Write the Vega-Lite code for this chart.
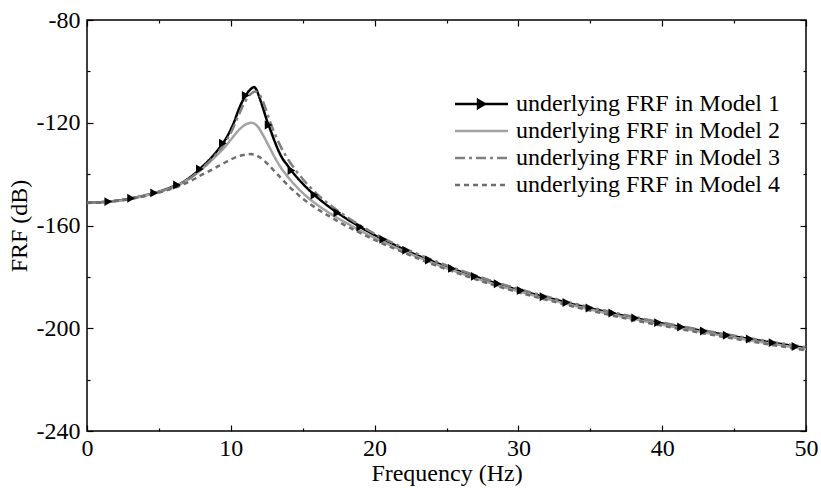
{
  "$schema": "https://vega.github.io/schema/vega-lite/v6.json",
  "width": 719,
  "height": 411,
  "autosize": "none",
  "padding": {"left": 87, "top": 20, "right": 15, "bottom": 57},
  "background": "white",
  "config": {
    "view": {"stroke": "black", "strokeWidth": 1.5},
    "font": "Liberation Serif",
    "axis": {
      "labelFont": "Liberation Serif",
      "titleFont": "Liberation Serif",
      "labelFontSize": 24,
      "titleFontSize": 24,
      "labelColor": "black",
      "titleColor": "black",
      "titleFontWeight": "normal",
      "grid": false,
      "domain": false,
      "tickColor": "black",
      "tickWidth": 1.2,
      "labelFlush": false,
      "labelOverlap": false
    }
  },
  "datasets": {
    "curves": [
      {"series": "Model 1", "f": 0, "v": -151.1},
      {"series": "Model 1", "f": 1, "v": -150.9},
      {"series": "Model 1", "f": 2, "v": -150.4},
      {"series": "Model 1", "f": 3, "v": -149.5},
      {"series": "Model 1", "f": 4, "v": -148.3},
      {"series": "Model 1", "f": 5, "v": -146.8},
      {"series": "Model 1", "f": 6, "v": -144.8},
      {"series": "Model 1", "f": 6.5, "v": -143.7},
      {"series": "Model 1", "f": 7, "v": -141.9},
      {"series": "Model 1", "f": 7.5, "v": -139.8},
      {"series": "Model 1", "f": 8, "v": -137.2},
      {"series": "Model 1", "f": 8.5, "v": -134.5},
      {"series": "Model 1", "f": 9, "v": -131.3},
      {"series": "Model 1", "f": 9.5, "v": -127.6},
      {"series": "Model 1", "f": 9.75, "v": -125.3},
      {"series": "Model 1", "f": 10, "v": -122.6},
      {"series": "Model 1", "f": 10.25, "v": -119.4},
      {"series": "Model 1", "f": 10.5, "v": -115.6},
      {"series": "Model 1", "f": 10.75, "v": -112.3},
      {"series": "Model 1", "f": 11, "v": -109.7},
      {"series": "Model 1", "f": 11.25, "v": -107.7},
      {"series": "Model 1", "f": 11.5, "v": -106.4},
      {"series": "Model 1", "f": 11.62, "v": -106.1},
      {"series": "Model 1", "f": 11.75, "v": -106.8},
      {"series": "Model 1", "f": 12, "v": -110.3},
      {"series": "Model 1", "f": 12.25, "v": -114.5},
      {"series": "Model 1", "f": 12.5, "v": -118.9},
      {"series": "Model 1", "f": 12.75, "v": -122.7},
      {"series": "Model 1", "f": 13, "v": -126.5},
      {"series": "Model 1", "f": 13.25, "v": -130.0},
      {"series": "Model 1", "f": 13.5, "v": -133.0},
      {"series": "Model 1", "f": 14, "v": -137.0},
      {"series": "Model 1", "f": 14.5, "v": -140.6},
      {"series": "Model 1", "f": 15, "v": -143.7},
      {"series": "Model 1", "f": 15.5, "v": -146.5},
      {"series": "Model 1", "f": 16, "v": -149.0},
      {"series": "Model 1", "f": 17, "v": -153.4},
      {"series": "Model 1", "f": 18, "v": -157.2},
      {"series": "Model 1", "f": 19, "v": -160.6},
      {"series": "Model 1", "f": 20, "v": -163.7},
      {"series": "Model 1", "f": 21, "v": -166.5},
      {"series": "Model 1", "f": 22, "v": -169.2},
      {"series": "Model 1", "f": 24, "v": -173.9},
      {"series": "Model 1", "f": 26, "v": -178.0},
      {"series": "Model 1", "f": 28, "v": -181.7},
      {"series": "Model 1", "f": 30, "v": -185.1},
      {"series": "Model 1", "f": 32, "v": -188.1},
      {"series": "Model 1", "f": 34, "v": -190.9},
      {"series": "Model 1", "f": 36, "v": -193.5},
      {"series": "Model 1", "f": 38, "v": -195.9},
      {"series": "Model 1", "f": 40, "v": -198.1},
      {"series": "Model 1", "f": 42, "v": -200.2},
      {"series": "Model 1", "f": 44, "v": -202.2},
      {"series": "Model 1", "f": 46, "v": -204.1},
      {"series": "Model 1", "f": 48, "v": -205.9},
      {"series": "Model 1", "f": 50, "v": -207.7},

      {"series": "Model 2", "f": 0, "v": -151.2},
      {"series": "Model 2", "f": 1, "v": -151.0},
      {"series": "Model 2", "f": 2, "v": -150.5},
      {"series": "Model 2", "f": 3, "v": -149.6},
      {"series": "Model 2", "f": 4, "v": -148.4},
      {"series": "Model 2", "f": 5, "v": -146.9},
      {"series": "Model 2", "f": 6, "v": -145.0},
      {"series": "Model 2", "f": 7, "v": -142.2},
      {"series": "Model 2", "f": 7.5, "v": -140.3},
      {"series": "Model 2", "f": 8, "v": -138.0},
      {"series": "Model 2", "f": 8.5, "v": -135.5},
      {"series": "Model 2", "f": 9, "v": -132.8},
      {"series": "Model 2", "f": 9.5, "v": -130.0},
      {"series": "Model 2", "f": 10, "v": -126.6},
      {"series": "Model 2", "f": 10.5, "v": -123.2},
      {"series": "Model 2", "f": 10.75, "v": -121.8},
      {"series": "Model 2", "f": 11, "v": -120.8},
      {"series": "Model 2", "f": 11.25, "v": -120.2},
      {"series": "Model 2", "f": 11.45, "v": -120.0},
      {"series": "Model 2", "f": 11.65, "v": -120.4},
      {"series": "Model 2", "f": 11.9, "v": -121.7},
      {"series": "Model 2", "f": 12.15, "v": -123.9},
      {"series": "Model 2", "f": 12.5, "v": -127.5},
      {"series": "Model 2", "f": 12.75, "v": -130.2},
      {"series": "Model 2", "f": 13, "v": -132.9},
      {"series": "Model 2", "f": 13.5, "v": -137.6},
      {"series": "Model 2", "f": 14, "v": -141.3},
      {"series": "Model 2", "f": 14.5, "v": -144.5},
      {"series": "Model 2", "f": 15, "v": -147.3},
      {"series": "Model 2", "f": 15.5, "v": -149.8},
      {"series": "Model 2", "f": 16, "v": -151.9},
      {"series": "Model 2", "f": 17, "v": -155.6},
      {"series": "Model 2", "f": 18, "v": -158.9},
      {"series": "Model 2", "f": 19, "v": -162.0},
      {"series": "Model 2", "f": 20, "v": -164.8},
      {"series": "Model 2", "f": 22, "v": -169.9},
      {"series": "Model 2", "f": 24, "v": -174.5},
      {"series": "Model 2", "f": 26, "v": -178.6},
      {"series": "Model 2", "f": 28, "v": -182.3},
      {"series": "Model 2", "f": 30, "v": -185.6},
      {"series": "Model 2", "f": 32, "v": -188.6},
      {"series": "Model 2", "f": 34, "v": -191.4},
      {"series": "Model 2", "f": 36, "v": -194.0},
      {"series": "Model 2", "f": 38, "v": -196.4},
      {"series": "Model 2", "f": 40, "v": -198.6},
      {"series": "Model 2", "f": 42, "v": -200.7},
      {"series": "Model 2", "f": 44, "v": -202.7},
      {"series": "Model 2", "f": 46, "v": -204.6},
      {"series": "Model 2", "f": 48, "v": -206.4},
      {"series": "Model 2", "f": 50, "v": -208.2},

      {"series": "Model 3", "f": 0, "v": -151.1},
      {"series": "Model 3", "f": 1, "v": -150.9},
      {"series": "Model 3", "f": 2, "v": -150.4},
      {"series": "Model 3", "f": 3, "v": -149.5},
      {"series": "Model 3", "f": 4, "v": -148.4},
      {"series": "Model 3", "f": 5, "v": -146.9},
      {"series": "Model 3", "f": 6, "v": -145.0},
      {"series": "Model 3", "f": 7, "v": -142.2},
      {"series": "Model 3", "f": 7.5, "v": -140.2},
      {"series": "Model 3", "f": 8, "v": -137.7},
      {"series": "Model 3", "f": 8.5, "v": -135.1},
      {"series": "Model 3", "f": 9, "v": -132.1},
      {"series": "Model 3", "f": 9.5, "v": -128.6},
      {"series": "Model 3", "f": 10, "v": -124.0},
      {"series": "Model 3", "f": 10.5, "v": -117.7},
      {"series": "Model 3", "f": 10.75, "v": -114.5},
      {"series": "Model 3", "f": 11, "v": -111.7},
      {"series": "Model 3", "f": 11.25, "v": -109.6},
      {"series": "Model 3", "f": 11.5, "v": -108.3},
      {"series": "Model 3", "f": 11.72, "v": -107.8},
      {"series": "Model 3", "f": 11.9, "v": -108.3},
      {"series": "Model 3", "f": 12.1, "v": -110.0},
      {"series": "Model 3", "f": 12.3, "v": -112.6},
      {"series": "Model 3", "f": 12.5, "v": -115.8},
      {"series": "Model 3", "f": 12.75, "v": -119.9},
      {"series": "Model 3", "f": 13, "v": -123.5},
      {"series": "Model 3", "f": 13.25, "v": -126.7},
      {"series": "Model 3", "f": 13.5, "v": -129.6},
      {"series": "Model 3", "f": 14, "v": -134.4},
      {"series": "Model 3", "f": 14.5, "v": -138.4},
      {"series": "Model 3", "f": 15, "v": -141.9},
      {"series": "Model 3", "f": 15.5, "v": -145.0},
      {"series": "Model 3", "f": 16, "v": -147.8},
      {"series": "Model 3", "f": 17, "v": -152.4},
      {"series": "Model 3", "f": 18, "v": -156.4},
      {"series": "Model 3", "f": 19, "v": -160.0},
      {"series": "Model 3", "f": 20, "v": -163.2},
      {"series": "Model 3", "f": 22, "v": -168.7},
      {"series": "Model 3", "f": 24, "v": -173.4},
      {"series": "Model 3", "f": 26, "v": -177.5},
      {"series": "Model 3", "f": 28, "v": -181.3},
      {"series": "Model 3", "f": 30, "v": -184.7},
      {"series": "Model 3", "f": 32, "v": -187.7},
      {"series": "Model 3", "f": 34, "v": -190.5},
      {"series": "Model 3", "f": 36, "v": -193.1},
      {"series": "Model 3", "f": 38, "v": -195.5},
      {"series": "Model 3", "f": 40, "v": -197.8},
      {"series": "Model 3", "f": 42, "v": -199.9},
      {"series": "Model 3", "f": 44, "v": -201.9},
      {"series": "Model 3", "f": 46, "v": -203.8},
      {"series": "Model 3", "f": 48, "v": -205.6},
      {"series": "Model 3", "f": 50, "v": -207.4},

      {"series": "Model 4", "f": 0, "v": -151.2},
      {"series": "Model 4", "f": 1, "v": -151.0},
      {"series": "Model 4", "f": 2, "v": -150.5},
      {"series": "Model 4", "f": 3, "v": -149.7},
      {"series": "Model 4", "f": 4, "v": -148.6},
      {"series": "Model 4", "f": 5, "v": -147.2},
      {"series": "Model 4", "f": 6, "v": -145.5},
      {"series": "Model 4", "f": 7, "v": -143.2},
      {"series": "Model 4", "f": 7.5, "v": -141.8},
      {"series": "Model 4", "f": 8, "v": -140.2},
      {"series": "Model 4", "f": 8.5, "v": -138.8},
      {"series": "Model 4", "f": 9, "v": -137.3},
      {"series": "Model 4", "f": 9.5, "v": -135.8},
      {"series": "Model 4", "f": 10, "v": -134.3},
      {"series": "Model 4", "f": 10.5, "v": -133.1},
      {"series": "Model 4", "f": 11, "v": -132.4},
      {"series": "Model 4", "f": 11.35, "v": -132.2},
      {"series": "Model 4", "f": 11.7, "v": -132.5},
      {"series": "Model 4", "f": 12, "v": -133.4},
      {"series": "Model 4", "f": 12.5, "v": -135.7},
      {"series": "Model 4", "f": 13, "v": -138.6},
      {"series": "Model 4", "f": 13.5, "v": -141.6},
      {"series": "Model 4", "f": 14, "v": -144.5},
      {"series": "Model 4", "f": 14.5, "v": -147.1},
      {"series": "Model 4", "f": 15, "v": -149.5},
      {"series": "Model 4", "f": 15.5, "v": -151.6},
      {"series": "Model 4", "f": 16, "v": -153.5},
      {"series": "Model 4", "f": 17, "v": -156.9},
      {"series": "Model 4", "f": 18, "v": -160.1},
      {"series": "Model 4", "f": 19, "v": -162.9},
      {"series": "Model 4", "f": 20, "v": -165.6},
      {"series": "Model 4", "f": 22, "v": -170.5},
      {"series": "Model 4", "f": 24, "v": -175.0},
      {"series": "Model 4", "f": 26, "v": -179.0},
      {"series": "Model 4", "f": 28, "v": -182.7},
      {"series": "Model 4", "f": 30, "v": -186.0},
      {"series": "Model 4", "f": 32, "v": -189.0},
      {"series": "Model 4", "f": 34, "v": -191.8},
      {"series": "Model 4", "f": 36, "v": -194.4},
      {"series": "Model 4", "f": 38, "v": -196.8},
      {"series": "Model 4", "f": 40, "v": -199.0},
      {"series": "Model 4", "f": 42, "v": -201.1},
      {"series": "Model 4", "f": 44, "v": -203.1},
      {"series": "Model 4", "f": 46, "v": -205.0},
      {"series": "Model 4", "f": 48, "v": -206.8},
      {"series": "Model 4", "f": 50, "v": -208.6}
    ],
    "markers": [
      {"f": 1.48, "v": -150.7},
      {"f": 3.07, "v": -149.4},
      {"f": 4.67, "v": -147.3},
      {"f": 6.26, "v": -144.2},
      {"f": 7.85, "v": -138.0},
      {"f": 9.45, "v": -128.0},
      {"f": 11.04, "v": -109.4},
      {"f": 12.63, "v": -120.9},
      {"f": 14.22, "v": -138.6},
      {"f": 15.82, "v": -148.1},
      {"f": 17.41, "v": -155.0},
      {"f": 19.0, "v": -160.6},
      {"f": 20.6, "v": -165.4},
      {"f": 22.19, "v": -169.6},
      {"f": 23.78, "v": -173.4},
      {"f": 25.38, "v": -176.7},
      {"f": 26.97, "v": -179.8},
      {"f": 28.56, "v": -182.7},
      {"f": 30.16, "v": -185.3},
      {"f": 31.75, "v": -187.7},
      {"f": 33.34, "v": -190.0},
      {"f": 34.94, "v": -192.1},
      {"f": 36.53, "v": -194.1},
      {"f": 38.12, "v": -196.0},
      {"f": 39.71, "v": -197.8},
      {"f": 41.31, "v": -199.5},
      {"f": 42.9, "v": -201.1},
      {"f": 44.49, "v": -202.7},
      {"f": 46.09, "v": -204.2},
      {"f": 47.68, "v": -205.6},
      {"f": 49.27, "v": -207.1}
    ]
  },
  "layer": [
    {
      "data": {"name": "curves"},
      "mark": {"type": "line", "strokeWidth": 2.5, "interpolate": "monotone", "clip": true},
      "encoding": {
        "x": {
          "field": "f", "type": "quantitative",
          "scale": {"domain": [0, 50], "nice": false, "zero": false},
          "axis": {
            "orient": "bottom",
            "values": [0, 5, 10, 15, 20, 25, 30, 35, 40, 45, 50],
            "labelExpr": "datum.value % 10 === 0 ? toString(datum.value) : ''",
            "tickSize": {"condition": {"test": "datum.value % 10 === 0", "value": -6}, "value": -3},
            "labelPadding": 11,
            "title": "Frequency (Hz)",
            "titlePadding": -2
          }
        },
        "y": {
          "field": "v", "type": "quantitative",
          "scale": {"domain": [-240, -80], "nice": false, "zero": false},
          "axis": {
            "orient": "left",
            "values": [-240, -220, -200, -180, -160, -140, -120, -100, -80],
            "labelExpr": "datum.value % 40 === 0 ? toString(datum.value) : ''",
            "tickSize": {"condition": {"test": "datum.value % 40 === 0", "value": -6}, "value": -3},
            "labelPadding": 13,
            "title": "FRF (dB)",
            "titlePadding": 5
          }
        },
        "color": {
          "field": "series", "type": "nominal",
          "scale": {"domain": ["Model 1", "Model 2", "Model 3", "Model 4"], "range": ["#000000", "#a3a3a3", "#808080", "#6e6e6e"]},
          "legend": {
            "orient": "none",
            "legendX": 366.5,
            "legendY": 71.5,
            "title": null,
            "labelExpr": "'underlying FRF in ' + datum.label",
            "labelFont": "Liberation Serif",
            "labelFontSize": 24,
            "labelColor": "black",
            "labelLimit": 400,
            "symbolSize": 2809,
            "symbolStrokeWidth": 2.5,
            "symbolOffset": 0,
            "labelOffset": 6.5,
            "clipHeight": 25,
            "rowPadding": 2,
            "padding": 0,
            "encode": {
              "symbols": {
                "update": {
                  "shape": {"signal": "datum.value === 'Model 1' ? 'M-1,0L1,0M-0.13,-0.15L0.13,0L-0.13,0.15Z' : 'M-1,0L1,0'"},
                  "fill": {"value": "black"},
                  "strokeDash": {"signal": "datum.value === 'Model 3' ? [10,4,3,4] : (datum.value === 'Model 4' ? [5,4] : [1,0])"}
                }
              }
            }
          }
        },
        "strokeDash": {
          "field": "series", "type": "nominal",
          "scale": {"domain": ["Model 1", "Model 2", "Model 3", "Model 4"], "range": [[1, 0], [1, 0], [10, 4, 3, 4], [5, 4]]},
          "legend": null
        }
      }
    },
    {
      "data": {"name": "markers"},
      "mark": {"type": "point", "shape": "triangle-right", "filled": true, "color": "black", "size": 80, "opacity": 1},
      "encoding": {
        "x": {
          "field": "f", "type": "quantitative",
          "axis": {
            "orient": "top",
            "values": [0, 5, 10, 15, 20, 25, 30, 35, 40, 45, 50],
            "labels": false,
            "title": null,
            "tickSize": {"condition": {"test": "datum.value % 10 === 0", "value": -6}, "value": -3}
          }
        },
        "y": {
          "field": "v", "type": "quantitative",
          "axis": {
            "orient": "right",
            "values": [-240, -220, -200, -180, -160, -140, -120, -100, -80],
            "labels": false,
            "title": null,
            "tickSize": {"condition": {"test": "datum.value % 40 === 0", "value": -6}, "value": -3}
          }
        }
      }
    }
  ],
  "resolve": {"axis": {"x": "independent", "y": "independent"}}
}
